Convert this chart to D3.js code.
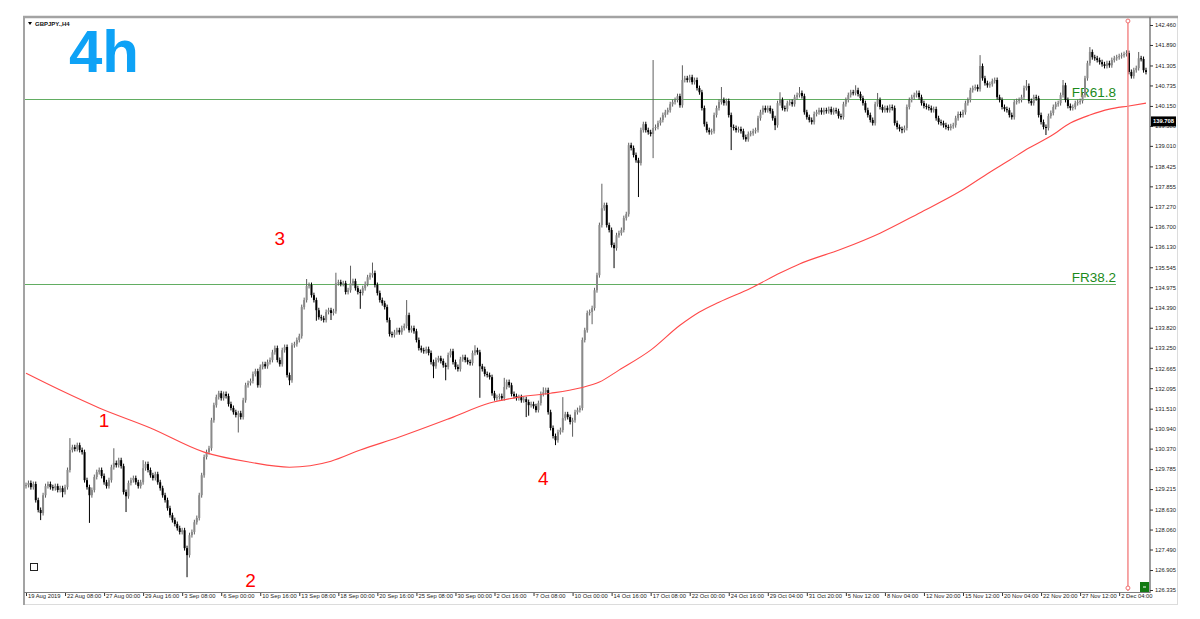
<!DOCTYPE html>
<html><head><meta charset="utf-8">
<script src="https://cdn.jsdelivr.net/npm/d3@7"></script>
<style>
html,body{margin:0;padding:0;background:#fff;}
svg{display:block;font-family:"Liberation Sans",Arial,sans-serif;}
</style></head><body>
<svg id="c" width="1200" height="619"></svg>
<script>
// ---------------- DATA ----------------
const symbolTitle = "GBPJPY.,H4";
const bigTitle = "4h";
const firstOpen = 129.30;
const closes = [
129.33,129.39,129.27,129.36,128.90,128.62,128.53,129.04,129.30,129.36,129.27,129.24,129.30,129.19,129.24,129.13,129.27,
129.76,130.33,130.41,130.36,130.47,130.33,130.27,129.47,129.27,129.04,129.19,129.56,129.70,129.76,129.59,129.41,129.30,129.47,
129.84,129.96,129.90,130.04,129.87,129.13,129.01,129.39,129.47,129.53,129.41,129.30,129.41,129.81,129.93,129.76,
129.61,129.53,129.64,129.41,129.24,129.04,128.90,128.67,128.47,128.33,128.22,128.10,127.99,128.04,127.53,127.33,
127.90,127.99,128.27,128.39,129.04,129.61,130.13,130.27,130.38,131.18,131.61,
131.84,131.95,131.81,131.93,131.87,131.64,131.53,131.41,131.33,131.38,131.27,131.75,132.18,132.24,132.30,132.50,132.58,132.18,
132.70,132.78,132.72,132.84,132.90,133.12,133.24,132.90,132.78,133.18,133.27,132.47,132.32,133.32,133.35,133.47,133.58,
134.41,134.61,135.01,135.04,134.75,134.61,134.32,134.12,134.09,134.04,134.27,134.32,134.24,134.29,135.09,135.12,135.07,135.09,
134.84,134.89,135.09,135.15,134.95,134.84,134.81,134.95,135.07,135.26,135.32,135.38,135.04,134.81,134.61,134.52,134.41,
134.04,133.64,133.61,133.69,133.75,
133.69,133.81,133.87,134.18,133.75,133.81,133.72,133.47,133.24,133.18,133.15,133.21,133.10,132.84,132.72,132.90,132.95,132.87,
132.75,132.70,133.04,133.15,132.84,132.70,132.64,132.92,132.98,132.90,132.84,132.81,133.10,133.18,133.12,132.72,132.64,
132.50,132.47,132.41,131.95,131.81,131.84,131.87,131.81,132.13,132.27,132.18,131.93,131.87,131.81,131.84,131.75,131.78,
131.70,131.61,131.64,131.58,131.47,131.67,131.93,131.98,132.04,131.41,130.96,130.73,130.61,130.84,130.90,131.24,131.35,131.27,
131.13,131.18,131.41,131.47,131.53,133.47,133.75,134.24,134.27,134.38,134.89,135.32,
136.75,137.23,137.32,136.75,136.61,136.18,136.09,136.46,136.52,136.61,136.95,137.06,139.03,138.95,138.75,138.60,138.52,
139.46,139.63,139.46,139.40,139.35,139.52,139.55,139.66,139.75,139.89,139.97,140.03,140.20,140.26,140.32,140.43,140.17,
140.89,140.94,140.89,140.97,140.83,140.89,140.66,140.54,140.09,139.63,139.46,139.40,139.43,139.89,140.09,
140.26,140.32,140.23,140.29,139.89,139.55,139.52,139.46,139.49,139.43,139.26,139.20,139.35,139.37,139.43,139.46,139.80,139.97,
140.09,140.03,
140.09,140.00,139.80,139.60,140.23,140.32,140.09,140.06,140.23,140.26,140.20,140.40,140.46,140.52,140.43,139.97,139.83,
139.75,139.69,139.92,139.97,140.03,139.97,140.03,140.00,140.06,139.97,140.03,140.00,139.86,139.83,140.20,140.32,
140.46,140.54,140.52,140.60,140.49,140.37,140.23,140.03,139.89,139.75,139.66,140.20,140.32,140.12,140.03,140.09,
140.03,140.12,140.09,139.66,139.55,139.49,139.46,139.52,140.12,140.32,140.40,140.46,140.52,140.40,140.23,140.15,140.12,
140.09,140.03,140.06,139.80,139.69,139.66,139.60,139.55,139.52,139.57,139.60,139.80,139.92,
139.89,139.97,140.23,140.32,140.60,140.66,140.69,140.63,141.29,140.94,140.80,140.74,140.77,140.86,140.89,140.40,140.32,
140.12,140.06,140.03,139.89,139.83,140.26,140.29,140.32,140.40,140.66,140.72,140.29,140.23,140.40,140.37,139.89,139.69,
139.55,139.52,139.86,139.95,140.12,140.20,140.23,140.46,140.74,140.32,140.15,140.09,140.12,140.23,140.26,140.29,140.46,
140.94,141.37,141.69,141.54,141.51,141.46,141.40,141.34,141.29,141.37,141.31,141.46,141.51,141.54,141.57,141.60,141.63,141.66,
141.12,141.00,141.17,141.23,141.51,141.49,141.17,141.12
];
// typical wick length (yen) and wicks read as notably long: [bar, upper, lower]
const baseWick = 0.07;
const longWicks = [
[6,0.07,0.2],[15,0.07,0.15],[18,0.34,0.07],[26,0.07,0.79],[36,0.42,0.07],[41,0.07,0.45],[48,0.23,0.07],[66,0.07,0.63],
[87,0.07,0.5],[108,0.07,0.14],[115,0.2,0.07],[119,0.07,0.3],[125,0.07,0.2],[127,0.3,0.07],[133,0.5,0.07],[137,0.07,0.45],
[142,0.3,0.07],[156,0.43,0.07],[167,0.07,0.34],[172,0.07,0.38],[184,0.14,0.07],[186,0.07,0.9],[196,0.26,0.07],[205,0.07,0.43],
[206,0.07,0.3],[212,0.14,0.07],[217,0.07,0.14],[220,0.6,0.07],[224,0.07,0.42],[232,0.07,0.35],[236,0.7,0.07],[241,0.07,0.57],
[251,0.07,0.97],[257,1.94,0.69],[269,0.42,0.07],[285,0.37,0.07],[289,0.07,0.66],[307,0.07,0.14],[309,0.22,0.07],[317,0.17,0.07],
[340,0.14,0.07],[349,0.2,0.07],[359,0.07,0.09],[391,0.31,0.07],[410,0.17,0.07],[418,0.07,0.2],[425,0.15,0.07],[436,0.14,0.07],
[451,0.08,0.07],[456,0.18,0.07]
];
// moving average (red) sampled at bars
const maBars   = [0,14,30,51,73,92,108,125,137,153,174,190,202,215,227,235,243,256,268,276,284,297,309,317,334,350,366,383,395,403,411,420,428,436,444,452,459];
const maValues = [132.52,132.04,131.53,130.96,130.27,129.98,129.84,130.01,130.33,130.70,131.24,131.67,131.84,131.95,132.10,132.27,132.61,133.18,133.89,134.27,134.55,134.95,135.38,135.64,136.06,136.52,137.09,137.72,138.26,138.60,138.95,139.29,139.66,139.89,140.06,140.15,140.23];
const priceTicks = [142.460,141.890,141.305,140.735,140.150,139.580,139.010,138.425,137.855,137.270,136.700,136.130,135.545,134.975,134.390,133.820,133.250,132.665,132.095,131.510,130.940,130.370,129.785,129.215,128.630,128.060,127.490,126.905,126.335];
const timeTickBars = [0,16,32,48,64,80,96,112,128,144,160,176,192,208,224,240,256,272,288,304,320,336,352,368,384,400,416,432,448];
const timeLabels = ["19 Aug 2019","22 Aug 08:00","27 Aug 00:00","29 Aug 16:00","3 Sep 08:00","6 Sep 00:00","10 Sep 16:00","13 Sep 08:00","18 Sep 00:00","20 Sep 16:00","25 Sep 08:00","30 Sep 00:00","2 Oct 16:00","7 Oct 08:00","10 Oct 00:00","14 Oct 16:00","17 Oct 08:00","22 Oct 00:00","24 Oct 16:00","29 Oct 04:00","31 Oct 20:00","5 Nov 12:00","8 Nov 04:00","12 Nov 20:00","15 Nov 12:00","20 Nov 04:00","22 Nov 20:00","27 Nov 12:00","2 Dec 04:00"];
const fibLevels = [140.35, 135.07];
const fibNames = ["FR61.8", "FR38.2"];
const waveLabels = ["1","2","3","4"];
const waveBars = [32, 92, 104, 212];
const wavePrices = [131.18, 126.62, 136.38, 129.53];
const vLineBar = 451.6;
const currentPrice = 139.708;

// ---------------- DRAW ----------------
const svg = d3.select("#c");
const W = 1200, H = 619;
const plot = {l: 25, r: 1150, t: 18, b: 592};
const x = d3.scaleLinear().domain([0, 459]).range([26, 1146]);
const y = d3.scaleLinear().domain([126.335, 142.46]).range([590, 25]);

svg.append("rect").attr("width", W).attr("height", H).attr("fill", "#fff");

// window frame
svg.append("rect").attr("x", 23.5).attr("y", 16.5).attr("width", 1154).attr("height", 588)
  .attr("fill", "none").attr("stroke", "#dcdcdc");
svg.append("line").attr("x1", 23).attr("x2", 1178).attr("y1", 17).attr("y2", 17)
  .attr("stroke", "#a3a3a3").attr("stroke-width", 2.5);
svg.append("line").attr("x1", 24).attr("x2", 24).attr("y1", 16).attr("y2", 605)
  .attr("stroke", "#a3a3a3").attr("stroke-width", 2);

svg.append("defs").append("clipPath").attr("id", "clip")
  .append("rect").attr("x", plot.l).attr("y", plot.t).attr("width", plot.r - plot.l).attr("height", plot.b - plot.t);
const g = svg.append("g").attr("clip-path", "url(#clip)");

// fib lines
fibLevels.forEach((lv, k) => {
  g.append("line").attr("x1", plot.l).attr("x2", 1116).attr("y1", Math.round(y(lv)) + 0.5).attr("y2", Math.round(y(lv)) + 0.5)
    .attr("stroke", "#62ad62").attr("stroke-width", 1);
  g.append("text").attr("x", 1116).attr("y", y(lv) - 2).attr("text-anchor", "end")
    .attr("font-size", 13.5).attr("fill", "#1b8a1b").text(fibNames[k]);
});

// candles
const wickMap = new Map(longWicks.map(d => [d[0], d]));
const candles = closes.map((c, i) => {
  const o = i === 0 ? firstOpen : closes[i - 1];
  const w = wickMap.get(i);
  const up = w ? w[1] : baseWick, dn = w ? w[2] : baseWick;
  return {i, o, c, h: Math.max(o, c) + up, l: Math.min(o, c) - dn};
});
const cg = g.append("g");
cg.selectAll("line.wick").data(candles).join("line").attr("class", "wick")
  .attr("x1", d => x(d.i)).attr("x2", d => x(d.i))
  .attr("y1", d => y(d.h)).attr("y2", d => y(d.l))
  .attr("stroke", d => d.c >= d.o ? "#5e5e5e" : "#000").attr("stroke-width", 1);
cg.selectAll("rect.body").data(candles).join("rect").attr("class", "body")
  .attr("x", d => x(d.i) - 1).attr("width", 2)
  .attr("y", d => y(Math.max(d.o, d.c)))
  .attr("height", d => Math.max(1, Math.abs(y(d.o) - y(d.c))))
  .attr("fill", d => d.c >= d.o ? "#8a8a8a" : "#000");

// moving average
const maData = maBars.map((b, k) => [b, maValues[k]]);
g.append("path").datum(maData)
  .attr("d", d3.line().x(d => x(d[0])).y(d => y(d[1])).curve(d3.curveMonotoneX))
  .attr("fill", "none").attr("stroke", "#ff4a4a").attr("stroke-width", 1.1);

// vertical line
const vx = x(vLineBar);
svg.append("line").attr("x1", vx).attr("x2", vx).attr("y1", 19).attr("y2", 591)
  .attr("stroke", "#f38a8a").attr("stroke-width", 1.5);
[21, 588].forEach(cy => svg.append("circle").attr("cx", vx).attr("cy", cy).attr("r", 2)
  .attr("fill", "#fff").attr("stroke", "#f07070").attr("stroke-width", 1));

// wave labels
waveLabels.forEach((t, k) => {
  svg.append("text").attr("x", x(waveBars[k])).attr("y", y(wavePrices[k]))
    .attr("text-anchor", "middle").attr("dominant-baseline", "central")
    .attr("font-size", 19).attr("fill", "#ff0000").text(t);
});

// price axis
svg.append("line").attr("x1", 1150).attr("x2", 1150).attr("y1", 17).attr("y2", 593)
  .attr("stroke", "#7d7d7d").attr("stroke-width", 1.5);
const pa = svg.append("g").attr("transform", "translate(1150,0)")
  .call(d3.axisRight(y).tickValues(priceTicks).tickFormat(d3.format(".3f")).tickSize(3).tickPadding(2));
pa.select(".domain").remove();
pa.selectAll("line").attr("stroke", "#333");
pa.selectAll("text").attr("font-size", 5.8).attr("fill", "#222").attr("font-family", "Liberation Sans, Arial, sans-serif");

// current price box
const cy = y(currentPrice);
svg.append("rect").attr("x", 1151).attr("y", cy - 5).attr("width", 25).attr("height", 10).attr("fill", "#000");
svg.append("text").attr("x", 1163.5).attr("y", cy + 2).attr("text-anchor", "middle")
  .attr("font-size", 5.8).attr("font-weight", "bold").attr("fill", "#fff").text(currentPrice.toFixed(3));

// time axis
svg.append("line").attr("x1", 24).attr("x2", 1150).attr("y1", 592.5).attr("y2", 592.5)
  .attr("stroke", "#7d7d7d").attr("stroke-width", 1.2);
const ta = svg.append("g").attr("transform", "translate(0,593)")
  .call(d3.axisBottom(x).tickValues(timeTickBars).tickFormat((d, k) => timeLabels[k]).tickSize(3));
ta.select(".domain").remove();
ta.selectAll("line").attr("stroke", "#333");
ta.selectAll("text").attr("text-anchor", "start").attr("dx", 1.5).attr("dy", 0).attr("y", 5)
  .attr("font-size", 5.8).attr("fill", "#222").attr("font-family", "Liberation Sans, Arial, sans-serif");

// green trade box
svg.append("rect").attr("x", 1140).attr("y", 582).attr("width", 9).attr("height", 10).attr("fill", "#137a13");
svg.append("line").attr("x1", 1143).attr("x2", 1146).attr("y1", 587).attr("y2", 587).attr("stroke", "#fff").attr("stroke-width", 1);

// small square bottom-left
svg.append("rect").attr("x", 30.5).attr("y", 563.5).attr("width", 7).attr("height", 7)
  .attr("fill", "#fff").attr("stroke", "#222").attr("stroke-width", 1);

// title
svg.append("path").attr("d", "M28,22 L32,22 L30,25 Z").attr("fill", "#000");
svg.append("text").attr("x", 35).attr("y", 26).attr("font-size", 6).attr("font-weight", "bold")
  .attr("fill", "#111").text(symbolTitle);
svg.append("text").attr("x", 69).attr("y", 72).attr("font-size", 60).attr("font-weight", "bold")
  .attr("fill", "#0ea2f6").text(bigTitle);
</script>
</body></html>
